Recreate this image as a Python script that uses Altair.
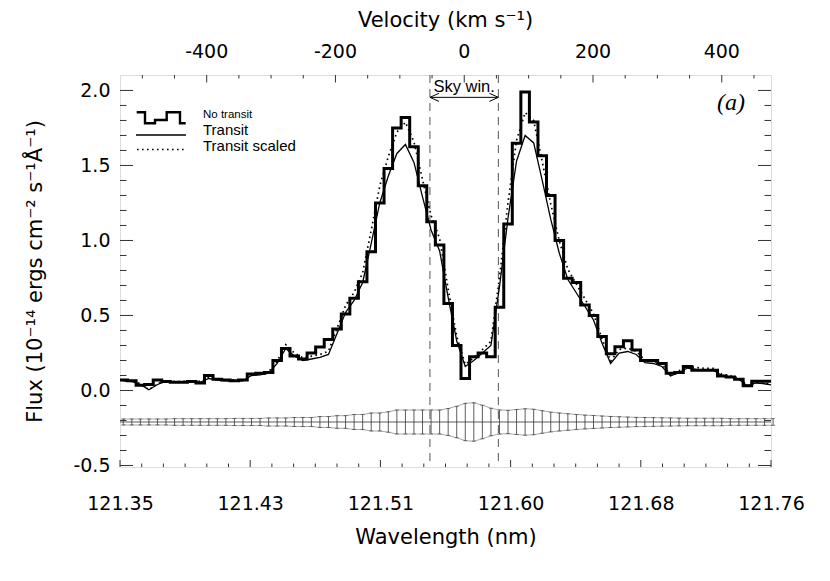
import altair as alt
import pandas as pd

# ---------------- data ----------------
wavelength = [
    121.35206, 121.35744, 121.36283, 121.36821, 121.37360, 121.37898, 121.38437, 121.38975, 121.39514, 121.40052,
    121.40591, 121.41129, 121.41668, 121.42206, 121.42745, 121.43283, 121.43822, 121.44360, 121.44899, 121.45437,
    121.45976, 121.46514, 121.47053, 121.47591, 121.48130, 121.48668, 121.49206, 121.49745, 121.50283, 121.50822,
    121.51360, 121.51899, 121.52437, 121.52976, 121.53514, 121.54053, 121.54591, 121.55130, 121.55668, 121.56207,
    121.56745, 121.57284, 121.57822, 121.58361, 121.58899, 121.59438, 121.59976, 121.60515, 121.61053, 121.61592,
    121.62130, 121.62668, 121.63207, 121.63745, 121.64284, 121.64822, 121.65361, 121.65899, 121.66438, 121.66976,
    121.67515, 121.68053, 121.68592, 121.69130, 121.69669, 121.70207, 121.70746, 121.71284, 121.71823, 121.72361,
    121.72899, 121.73438, 121.73976, 121.74515, 121.75053, 121.75592, 121.76130]

no_transit = [
    0.07, 0.065, 0.035, 0.04, 0.07, 0.06, 0.055, 0.055, 0.06, 0.05,
    0.10, 0.075, 0.07, 0.065, 0.07, 0.11, 0.115, 0.12, 0.20, 0.28,
    0.23, 0.21, 0.25, 0.29, 0.34, 0.41, 0.51, 0.615, 0.725, 0.925,
    1.25, 1.48, 1.75, 1.82, 1.625, 1.365, 1.125, 0.97, 0.58, 0.30,
    0.08, 0.225, 0.25, 0.225, 0.555, 1.11, 1.648, 1.99, 1.79, 1.565,
    1.30, 1.00, 0.748, 0.72, 0.57, 0.50, 0.36, 0.245, 0.292, 0.332,
    0.27, 0.20, 0.20, 0.18, 0.115, 0.12, 0.16, 0.135, 0.135, 0.135,
    0.097, 0.09, 0.075, 0.032, 0.062, 0.062, 0.062]

transit = [
    0.065, 0.06, 0.04, 0.005, 0.04, 0.06, 0.055, 0.055, 0.06, 0.055,
    0.08, 0.07, 0.065, 0.065, 0.065, 0.10, 0.105, 0.115, 0.18, 0.28,
    0.23, 0.20, 0.21, 0.22, 0.24, 0.38, 0.52, 0.60, 0.72, 0.98,
    1.25, 1.43, 1.58, 1.64, 1.52, 1.29, 1.07, 0.93, 0.62, 0.33,
    0.16, 0.20, 0.25, 0.30, 0.69, 1.15, 1.53, 1.70, 1.65, 1.40,
    1.14, 0.915, 0.74, 0.65, 0.56, 0.47, 0.315, 0.18, 0.25, 0.26,
    0.24, 0.185, 0.18, 0.16, 0.097, 0.12, 0.15, 0.14, 0.135, 0.135,
    0.10, 0.09, 0.075, 0.03, 0.05, 0.045, 0.035]

transit_scaled = [
    0.07, 0.065, 0.045, 0.005, 0.045, 0.065, 0.06, 0.06, 0.065, 0.06,
    0.087, 0.076, 0.071, 0.071, 0.071, 0.11, 0.115, 0.125, 0.196, 0.305,
    0.25, 0.218, 0.229, 0.24, 0.262, 0.414, 0.567, 0.654, 0.785, 1.068,
    1.363, 1.559, 1.722, 1.788, 1.657, 1.406, 1.166, 1.014, 0.676, 0.36,
    0.174, 0.218, 0.273, 0.327, 0.752, 1.254, 1.668, 1.853, 1.799, 1.526,
    1.243, 0.997, 0.807, 0.709, 0.61, 0.512, 0.343, 0.196, 0.273, 0.283,
    0.262, 0.202, 0.196, 0.174, 0.106, 0.131, 0.164, 0.153, 0.147, 0.147,
    0.109, 0.098, 0.082, 0.033, 0.055, 0.049, 0.038]

error_half = [
    0.020, 0.020, 0.020, 0.020, 0.020, 0.020, 0.022, 0.022, 0.022, 0.022,
    0.022, 0.022, 0.022, 0.024, 0.024, 0.024, 0.024, 0.027, 0.027, 0.027,
    0.030, 0.030, 0.030, 0.036, 0.036, 0.042, 0.042, 0.050, 0.050, 0.060,
    0.060, 0.068, 0.080, 0.080, 0.080, 0.080, 0.080, 0.080, 0.090, 0.105,
    0.125, 0.128, 0.112, 0.092, 0.080, 0.078, 0.083, 0.088, 0.085, 0.075,
    0.066, 0.060, 0.055, 0.050, 0.046, 0.043, 0.040, 0.037, 0.035, 0.033,
    0.031, 0.030, 0.029, 0.028, 0.027, 0.026, 0.025, 0.025, 0.025, 0.025,
    0.025, 0.022, 0.022, 0.022, 0.022, 0.022, 0.022]
error_center = -0.21

x_major_ticks = [121.35, 121.432, 121.514, 121.596, 121.678, 121.76]
y_major_ticks = [-0.5, 0.0, 0.5, 1.0, 1.5, 2.0]
vel_major_ticks = [-400, -200, 0, 200, 400]

LAMBDA0 = 121.5668
C_KMS = 299792.458
X_MIN, X_MAX = 121.35, 121.76
Y_MIN, Y_MAX = -0.51, 2.103
SKY_LO, SKY_HI = 121.5452, 121.5883
ARROW_Y = 1.954

W, H = 651, 392
FONT = "DejaVu Sans"
LFONT = "Liberation Sans"
tick_col = "#333333"

# ---------------- derived tables ----------------
x_minor_ticks = [X_MIN + (X_MAX - X_MIN) / 30 * k for k in range(31) if k % 6 != 0]
y_minor_ticks = [round(-0.5 + 0.1 * k, 2) for k in range(26) if k % 5 != 0]
vel_minor_ticks = [v for v in range(-500, 451, 50) if v not in vel_major_ticks]


def vel_to_lambda(v):
    return LAMBDA0 * (1 + v / C_KMS)


hw = (wavelength[1] - wavelength[0]) / 2
df_step = pd.DataFrame({
    "x": [w - hw for w in wavelength] + [wavelength[-1] + hw],
    "y": no_transit + [no_transit[-1]],
})
df = pd.DataFrame({"x": wavelength, "transit": transit, "scaled": transit_scaled})
df_err = pd.DataFrame({
    "x": wavelength,
    "lo": [error_center - e for e in error_half],
    "hi": [error_center + e for e in error_half],
})

xs = alt.Scale(domain=[X_MIN, X_MAX], nice=False, zero=False)
ys = alt.Scale(domain=[Y_MIN, Y_MAX], nice=False, zero=False)

neg_expr_1 = "datum.value < 0 ? '-' + format(-datum.value, '.1f') : format(datum.value, '.1f')"

x_axis = alt.Axis(
    orient="bottom", values=x_major_ticks, format=".2f", ticks=False, tickSize=0,
    domain=False, grid=False, labelFlush=False, labelOverlap=False,
    labelFont=FONT, labelFontSize=19, labelColor="black", labelPadding=27,
    title="Wavelength (nm)", titleFont=FONT, titleFontSize=21, titleFontWeight="normal",
    titleColor="black", titlePadding=13,
)
y_axis = alt.Axis(
    orient="left", values=y_major_ticks, labelExpr=neg_expr_1, ticks=False, tickSize=0,
    domain=False, grid=False, labelOverlap=False, labelFlush=False,
    labelFont=FONT, labelFontSize=19, labelColor="black", labelPadding=10,
    title="Flux (10⁻¹⁴ ergs cm⁻² s⁻¹Å⁻¹)", titleFont=FONT, titleFontSize=21,
    titleFontWeight="normal", titleColor="black", titlePadding=27,
)


def xq(field):
    return alt.X(field, type="quantitative", scale=xs, axis=x_axis)


def yq(field):
    return alt.Y(field, type="quantitative", scale=ys, axis=y_axis)


# ---------------- error bars ----------------
env_hi = alt.Chart(df_err).mark_line(color="#a0a0a0", strokeWidth=0.9).encode(x=xq("x"), y=yq("hi"))
env_lo = alt.Chart(df_err).mark_line(color="#a0a0a0", strokeWidth=0.9).encode(x=xq("x"), y=yq("lo"))
center = alt.Chart(pd.DataFrame({"y": [error_center]})).mark_rule(color="#333333", strokeWidth=0.8).encode(
    y=yq("y"), x=alt.value(0), x2=alt.value(W))
bars = alt.Chart(df_err).mark_rule(color="#333333", strokeWidth=0.8).encode(
    x=xq("x"), y=yq("lo"), y2="hi")
cap_lo = alt.Chart(df_err).mark_tick(orient="horizontal", size=4, thickness=0.8, color="#333333").encode(
    x=xq("x"), y=yq("lo"))
cap_hi = alt.Chart(df_err).mark_tick(orient="horizontal", size=4, thickness=0.8, color="#333333").encode(
    x=xq("x"), y=yq("hi"))

# ---------------- sky window ----------------
df_sky = pd.DataFrame({"x": [SKY_LO, SKY_HI], "top": [Y_MAX, Y_MAX], "bot": [Y_MIN, Y_MIN]})
sky_lines = alt.Chart(df_sky).mark_rule(color="#555555", strokeWidth=1, strokeDash=[8, 6]).encode(
    x=xq("x"), y=yq("top"), y2="bot")
df_arrow = pd.DataFrame({"x": [SKY_LO], "x2": [SKY_HI], "y": [ARROW_Y]})
arrow_shaft = alt.Chart(df_arrow).mark_rule(color="black", strokeWidth=1).encode(
    x=xq("x"), x2="x2", y=yq("y"))
head_l = alt.Chart(pd.DataFrame({"x": [SKY_LO], "y": [ARROW_Y]})).mark_point(
    shape="M 2 -0.9 L 0 0 L 2 0.9", filled=False, size=81, color="black", strokeWidth=1, opacity=1
).encode(x=xq("x"), y=yq("y"))
head_r = alt.Chart(pd.DataFrame({"x": [SKY_HI], "y": [ARROW_Y]})).mark_point(
    shape="M -2 -0.9 L 0 0 L -2 0.9", filled=False, size=81, color="black", strokeWidth=1, opacity=1
).encode(x=xq("x"), y=yq("y"))
sky_text = alt.Chart(pd.DataFrame({"x": [(SKY_LO + SKY_HI) / 2], "t": ["Sky win."]})).mark_text(
    font=LFONT, fontSize=16.5, color="black", baseline="alphabetic", align="center"
).encode(x=xq("x"), y=alt.value(16.5), text="t:N")

# ---------------- spectra ----------------
hist = alt.Chart(df_step).mark_line(interpolate="step-after", color="black", strokeWidth=3, clip=True).encode(
    x=xq("x"), y=yq("y"))
tr = alt.Chart(df).mark_line(color="black", strokeWidth=1.3, clip=True).encode(x=xq("x"), y=yq("transit"))
trs = alt.Chart(df).mark_line(color="black", strokeWidth=1.7, strokeDash=[1.6, 3.4], clip=True).encode(
    x=xq("x"), y=yq("scaled"))

# ---------------- inward ticks ----------------
lt_major = alt.Chart(pd.DataFrame({"y": y_major_ticks})).mark_rule(color=tick_col).encode(
    y=yq("y"), x=alt.value(0), x2=alt.value(13))
lt_minor = alt.Chart(pd.DataFrame({"y": y_minor_ticks})).mark_rule(color=tick_col).encode(
    y=yq("y"), x=alt.value(0), x2=alt.value(6.5))
rt_major = alt.Chart(pd.DataFrame({"y": y_major_ticks})).mark_rule(color=tick_col).encode(
    y=yq("y"), x=alt.value(W), x2=alt.value(W - 13))
rt_minor = alt.Chart(pd.DataFrame({"y": y_minor_ticks})).mark_rule(color=tick_col).encode(
    y=yq("y"), x=alt.value(W), x2=alt.value(W - 6.5))
bt_major = alt.Chart(pd.DataFrame({"x": x_major_ticks})).mark_rule(color=tick_col).encode(
    x=xq("x"), y=alt.value(H), y2=alt.value(H - 7))
bt_minor = alt.Chart(pd.DataFrame({"x": x_minor_ticks})).mark_rule(color=tick_col).encode(
    x=xq("x"), y=alt.value(H), y2=alt.value(H - 3.5))

# ---------------- velocity (top) axis ----------------
df_vmaj = pd.DataFrame({
    "x": [vel_to_lambda(v) for v in vel_major_ticks],
    "t": [str(v) for v in vel_major_ticks],
})
df_vmin = pd.DataFrame({"x": [vel_to_lambda(v) for v in vel_minor_ticks]})
tp_major = alt.Chart(df_vmaj).mark_rule(color=tick_col).encode(
    x=xq("x"), y=alt.value(0), y2=alt.value(7.5))
tp_minor = alt.Chart(df_vmin).mark_rule(color=tick_col, clip=True).encode(
    x=xq("x"), y=alt.value(0), y2=alt.value(3.5))
tp_labels = alt.Chart(df_vmaj).mark_text(font=FONT, fontSize=19, color="black", baseline="alphabetic",
                                         align="center").encode(
    x=xq("x"), y=alt.value(-17), text="t:N")
tp_title = alt.Chart(pd.DataFrame({"t": ["Velocity (km s⁻¹)"]})).mark_text(
    font=FONT, fontSize=21, color="black", baseline="alphabetic", align="center").encode(
    x=alt.value(W / 2), y=alt.value(-48), text="t:N")

# ---------------- legend & labels ----------------
legend_step = pd.DataFrame({
    "i": list(range(10)),
    "px": [16.7, 25, 25, 35, 35, 46.7, 46.7, 60, 60, 65.7],
    "py": [37.3, 37.3, 48.3, 48.3, 45, 45, 37.3, 37.3, 48.3, 48.3],
})
leg_hist = alt.Chart(legend_step).mark_line(color="black", strokeWidth=2.4).encode(
    x=alt.X("px:Q", scale=None), y=alt.Y("py:Q", scale=None), order="i:Q")
leg_line = alt.Chart(pd.DataFrame({"a": [0]})).mark_rule(color="black", strokeWidth=1.6).encode(
    x=alt.value(16), x2=alt.value(66), y=alt.value(60))
leg_dot = alt.Chart(pd.DataFrame({"a": [0]})).mark_rule(
    color="black", strokeWidth=1.7, strokeDash=[1.6, 3.4]).encode(
    x=alt.value(17), x2=alt.value(64), y=alt.value(74.5))
leg_t1 = alt.Chart(pd.DataFrame({"t": ["No transit"]})).mark_text(
    font=LFONT, fontSize=11.5, align="left", baseline="alphabetic", color="black").encode(
    x=alt.value(83), y=alt.value(43), text="t:N")
leg_t2 = alt.Chart(pd.DataFrame({"t": ["Transit"]})).mark_text(
    font=LFONT, fontSize=15, align="left", baseline="alphabetic", color="black").encode(
    x=alt.value(83), y=alt.value(60), text="t:N")
leg_t3 = alt.Chart(pd.DataFrame({"t": ["Transit scaled"]})).mark_text(
    font=LFONT, fontSize=15, align="left", baseline="alphabetic", color="black").encode(
    x=alt.value(83), y=alt.value(75.5), text="t:N")
panel = alt.Chart(pd.DataFrame({"t": ["(a)"]})).mark_text(
    font="Liberation Serif", fontStyle="italic", fontSize=24, align="center", baseline="alphabetic", color="black"
).encode(x=alt.value(611), y=alt.value(35), text="t:N")

chart = alt.layer(
    hist, env_hi, env_lo, center, bars, cap_lo, cap_hi, sky_lines,
    tr, trs,
    arrow_shaft, head_l, head_r, sky_text,
    lt_major, lt_minor, rt_major, rt_minor, bt_major, bt_minor,
    tp_major, tp_minor, tp_labels, tp_title,
    leg_hist, leg_line, leg_dot, leg_t1, leg_t2, leg_t3, panel,
).properties(
    width=W, height=H,
    autosize=alt.AutoSizeParams(type="none"),
    padding={"left": 112, "top": 67, "right": 45, "bottom": 106},
).configure_view(stroke="#333333", strokeWidth=1.3).configure(background="white")

chart.save("out.html", embed_options={"renderer": "svg", "actions": False})
